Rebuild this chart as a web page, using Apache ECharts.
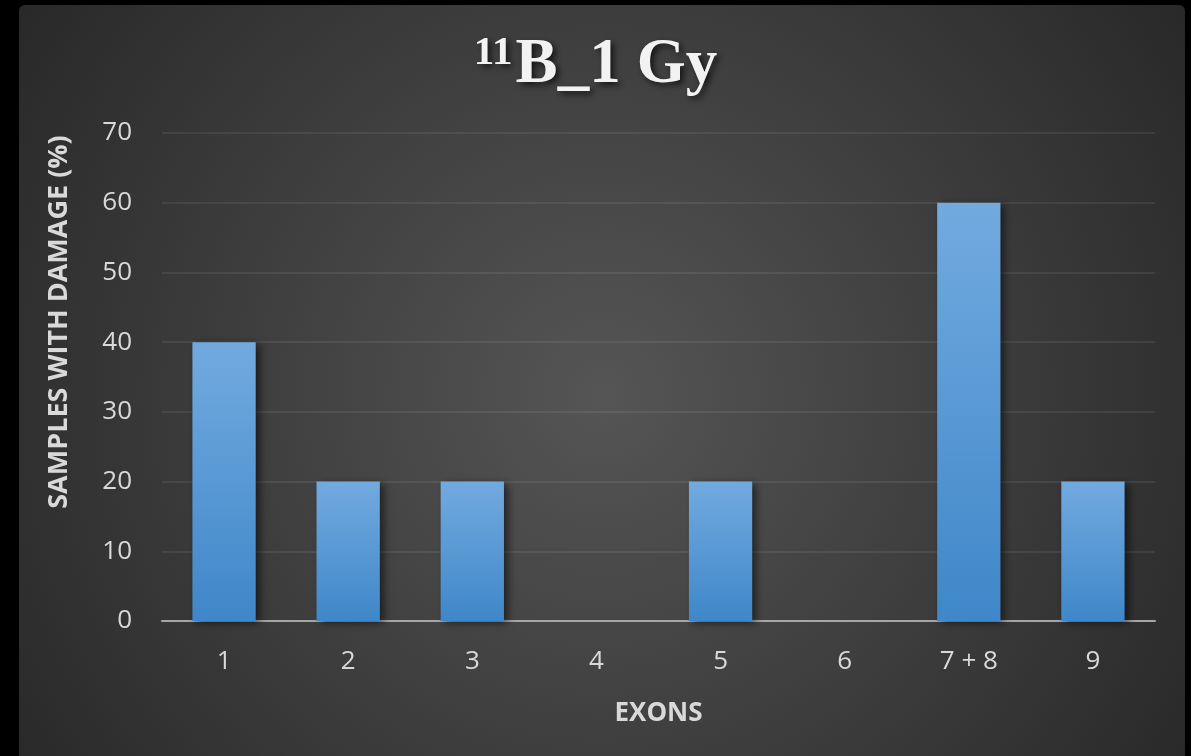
<!DOCTYPE html>
<html>
<head>
<meta charset="utf-8">
<style>
  html, body { margin: 0; padding: 0; background: #000; }
  #chart { width: 1191px; height: 756px; }
</style>
<script src="https://cdn.jsdelivr.net/npm/echarts@6/dist/echarts.min.js"></script>
</head>
<body>
<div id="chart"></div>
<script>
// Exon categories and percentage of samples with damage
const exons = ['1', '2', '3', '4', '5', '6', '7 + 8', '9'];
const damagePct = [40, 20, 20, 0, 20, 0, 60, 20];
const yTicks = { min: 0, max: 70, interval: 10 };
const yAxisTitle = 'SAMPLES WITH DAMAGE (%)';
const xAxisTitle = 'EXONS';

const chart = echarts.init(document.getElementById('chart'));

const labelColor = '#d9d9d9';
const sansFont = '"Open Sans", "Liberation Sans", sans-serif';
const serifFont = '"Liberation Serif", "Times New Roman", serif';
const titleShadow = {
  textShadowColor: 'rgba(0,0,0,0.7)', textShadowBlur: 6,
  textShadowOffsetX: 3, textShadowOffsetY: 3
};

chart.setOption({
  backgroundColor: '#000',
  animation: false,
  graphic: [{
    // dark panel with a soft radial highlight
    type: 'rect',
    z: -10,
    shape: { x: 19, y: 5, width: 1166, height: 780, r: 6 },
    style: {
      fill: {
        type: 'radial', x: 0.5, y: 0.5, r: 0.95,
        colorStops: [
          { offset: 0, color: '#555555' },
          { offset: 1, color: '#262626' }
        ]
      }
    }
  }, {
    // vertical axis title, centred on the chart body
    type: 'text',
    x: 59,
    y: 322,
    rotation: Math.PI / 2,
    style: {
      text: yAxisTitle,
      align: 'center',
      verticalAlign: 'middle',
      fill: labelColor,
      fontFamily: sansFont,
      fontWeight: 'bold',
      fontSize: 27
    }
  }],
  title: {
    text: '{sup|11}{main|B_1}{gy|Gy}',
    left: 'center',
    top: 28,
    padding: [5, 5, 5, 19],
    textStyle: {
      rich: {
        sup: Object.assign({
          fontFamily: serifFont, fontWeight: 'bold', fontSize: 41, color: '#f2f2f2',
          verticalAlign: 'top', padding: [0, 3, 25, 0]
        }, titleShadow),
        main: Object.assign({
          fontFamily: serifFont, fontWeight: 'bold', fontSize: 63, color: '#f2f2f2'
        }, titleShadow),
        gy: Object.assign({
          fontFamily: serifFont, fontWeight: 'bold', fontSize: 63, color: '#f2f2f2',
          padding: [0, 0, 0, 16]
        }, titleShadow)
      }
    }
  },
  grid: { left: 162, right: 36, top: 133, bottom: 135, containLabel: false },
  xAxis: {
    type: 'category',
    data: exons,
    name: xAxisTitle,
    nameLocation: 'middle',
    nameGap: 80,
    nameTextStyle: { color: labelColor, fontFamily: sansFont, fontWeight: 'bold', fontSize: 26 },
    axisLine: { lineStyle: { color: '#a6a6a6', width: 2 } },
    axisTick: { show: false },
    axisLabel: { color: labelColor, fontFamily: sansFont, fontSize: 26, margin: 28 }
  },
  yAxis: {
    type: 'value',
    min: yTicks.min, max: yTicks.max, interval: yTicks.interval,
    axisLine: { show: false },
    axisTick: { show: false },
    axisLabel: { color: labelColor, fontFamily: sansFont, fontSize: 26, margin: 30 },
    splitLine: { lineStyle: { color: 'rgba(255,255,255,0.1)', width: 1.5 } }
  },
  series: [{
    type: 'bar',
    data: damagePct,
    barWidth: '51%',
    itemStyle: {
      color: {
        type: 'linear', x: 0, y: 0, x2: 0, y2: 1,
        colorStops: [
          { offset: 0, color: '#72aadf' },
          { offset: 1, color: '#3f87c9' }
        ]
      },
      shadowColor: 'rgba(0,0,0,0.55)',
      shadowBlur: 8,
      shadowOffsetX: 4,
      shadowOffsetY: 2
    }
  }]
});
</script>
</body>
</html>
